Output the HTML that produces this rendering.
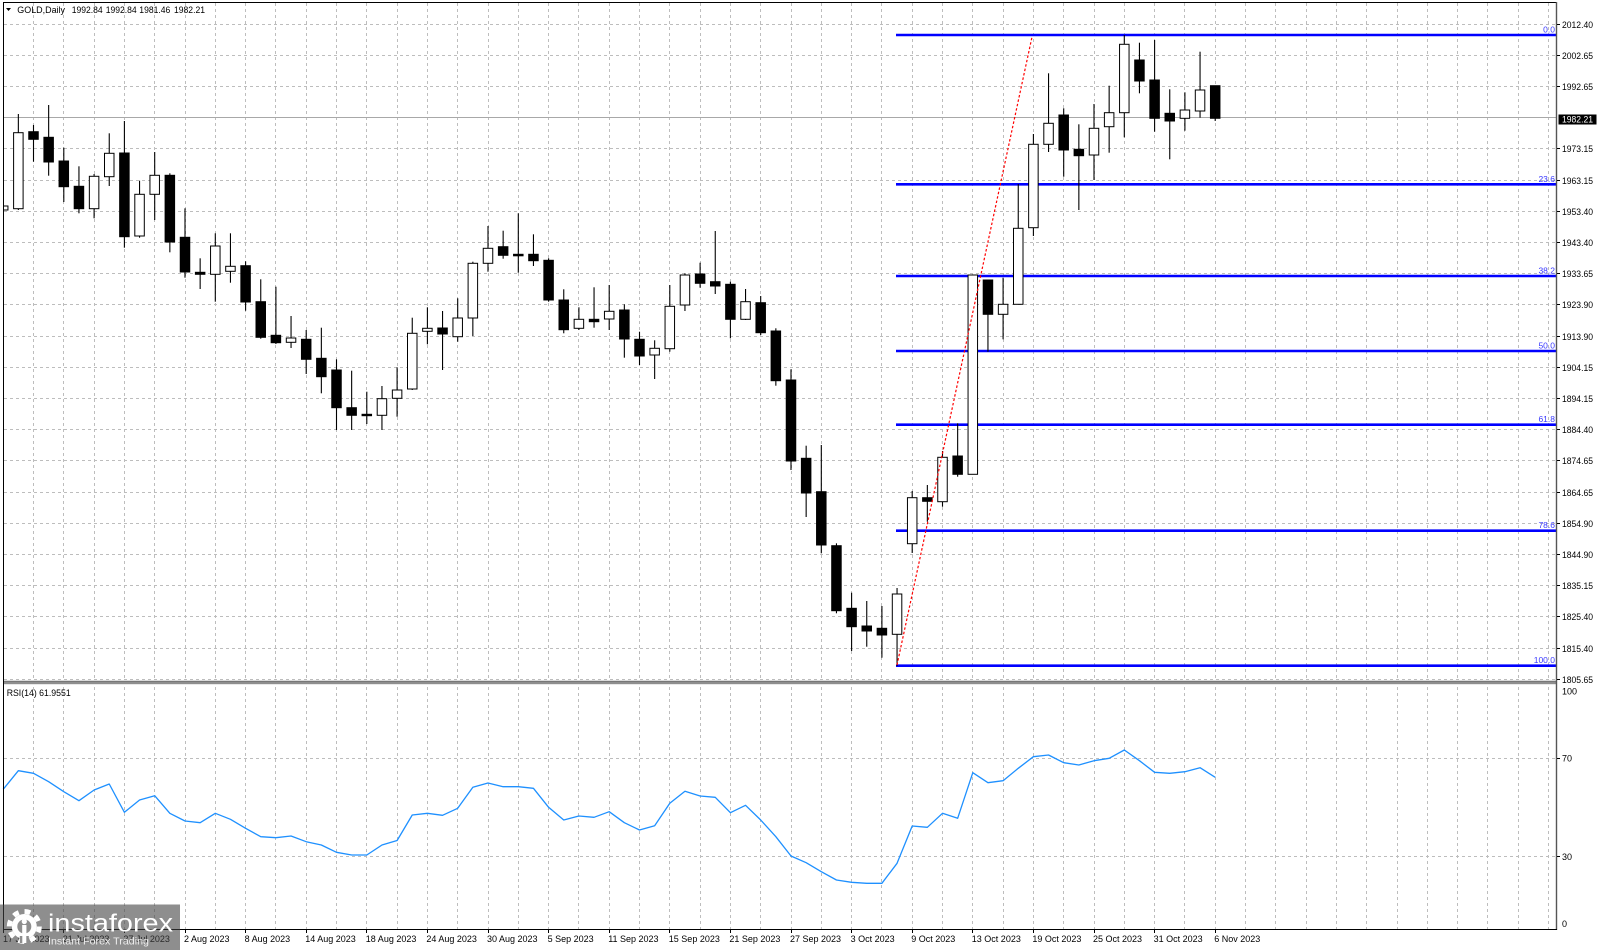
<!DOCTYPE html>
<html><head><meta charset="utf-8"><title>GOLD Daily</title>
<style>
html,body{margin:0;padding:0;background:#fff;}
svg{display:block;}
text{font-family:"Liberation Sans",Arial,sans-serif;}
</style></head>
<body>
<svg width="1600" height="950" viewBox="0 0 1600 950" xmlns="http://www.w3.org/2000/svg">
<defs>
<clipPath id="mainclip"><rect x="3" y="2" width="1553.5" height="679"/></clipPath>
<clipPath id="axclip"><rect x="1556" y="0" width="44" height="683"/></clipPath>
</defs>
<rect x="0" y="0" width="1600" height="950" fill="#fff"/>

<!-- vertical grid -->
<path fill="none" stroke="#bdbdbd" stroke-width="1" stroke-dasharray="3 3" d="M33.5 3V929M63.5 3V929M94.5 3V929M124.5 3V929M154.5 3V929M185.5 3V929M215.5 3V929M245.5 3V929M275.5 3V929M306.5 3V929M336.5 3V929M366.5 3V929M397.5 3V929M427.5 3V929M457.5 3V929M488.5 3V929M518.5 3V929M548.5 3V929M578.5 3V929M609.5 3V929M639.5 3V929M669.5 3V929M700.5 3V929M730.5 3V929M760.5 3V929M791.5 3V929M821.5 3V929M851.5 3V929M881.5 3V929M912.5 3V929M942.5 3V929M972.5 3V929M1003.5 3V929M1033.5 3V929M1063.5 3V929M1094.5 3V929M1124.5 3V929M1154.5 3V929M1184.5 3V929M1215.5 3V929M1245.5 3V929M1275.5 3V929M1306.5 3V929M1336.5 3V929M1366.5 3V929M1397.5 3V929M1427.5 3V929M1457.5 3V929M1487.5 3V929M1518.5 3V929M1548.5 3V929"/>
<!-- horizontal grid -->
<path fill="none" stroke="#bdbdbd" stroke-width="1" stroke-dasharray="3 3" d="M4 24.5H1556M4 55.5H1556M4 86.5H1556M4 148.5H1556M4 180.5H1556M4 211.5H1556M4 242.5H1556M4 273.5H1556M4 304.5H1556M4 336.5H1556M4 367.5H1556M4 398.5H1556M4 429.5H1556M4 460.5H1556M4 492.5H1556M4 523.5H1556M4 554.5H1556M4 585.5H1556M4 616.5H1556M4 648.5H1556M4 679.5H1556M4 758.5H1556M4 856.5H1556"/>
<!-- current price line -->
<line x1="3" y1="117.5" x2="1556" y2="117.5" stroke="#a8a8a8" stroke-width="1"/>

<!-- fibonacci levels -->
<g stroke="#0000ff" stroke-width="2.6">
<line x1="896" y1="35" x2="1556" y2="35"/>
<line x1="896" y1="184.3" x2="1556" y2="184.3"/>
<line x1="896" y1="276" x2="1556" y2="276"/>
<line x1="896" y1="351" x2="1556" y2="351"/>
<line x1="896" y1="424.7" x2="1556" y2="424.7"/>
<line x1="896" y1="530.7" x2="1556" y2="530.7"/>
<line x1="896" y1="665.7" x2="1556" y2="665.7"/>
</g>
<g fill="#3a3aff" font-size="8.5" text-anchor="end">
<text x="1555" y="32.5">0.0</text>
<text x="1555" y="181.8">23.6</text>
<text x="1555" y="273.5">38.2</text>
<text x="1555" y="348.5">50.0</text>
<text x="1555" y="422.2">61.8</text>
<text x="1555" y="528.2">78.6</text>
<text x="1555" y="663.2">100.0</text>
</g>

<!-- candles -->
<g clip-path="url(#mainclip)" stroke="#000" stroke-width="1">
<g stroke-width="1.1">
<line x1="3.2" y1="192" x2="3.2" y2="237"/>
<line x1="18.35" y1="114" x2="18.35" y2="210"/>
<line x1="33.5" y1="125" x2="33.5" y2="161.7"/>
<line x1="48.65" y1="105" x2="48.65" y2="175.7"/>
<line x1="63.8" y1="147.7" x2="63.8" y2="202"/>
<line x1="78.95" y1="166.3" x2="78.95" y2="213.3"/>
<line x1="94.1" y1="174" x2="94.1" y2="218.3"/>
<line x1="109.25" y1="133.3" x2="109.25" y2="186"/>
<line x1="124.4" y1="121" x2="124.4" y2="247.7"/>
<line x1="139.55" y1="180.7" x2="139.55" y2="237.7"/>
<line x1="154.7" y1="152" x2="154.7" y2="220"/>
<line x1="169.85" y1="173.3" x2="169.85" y2="252.3"/>
<line x1="185" y1="208.3" x2="185" y2="277.7"/>
<line x1="200.15" y1="258.3" x2="200.15" y2="289"/>
<line x1="215.3" y1="233.3" x2="215.3" y2="301.7"/>
<line x1="230.45" y1="233.3" x2="230.45" y2="282.7"/>
<line x1="245.6" y1="261.3" x2="245.6" y2="310.7"/>
<line x1="260.75" y1="279.3" x2="260.75" y2="338.7"/>
<line x1="275.9" y1="286.7" x2="275.9" y2="344"/>
<line x1="291.05" y1="316" x2="291.05" y2="348"/>
<line x1="306.2" y1="330" x2="306.2" y2="374"/>
<line x1="321.35" y1="327.7" x2="321.35" y2="393.3"/>
<line x1="336.5" y1="359.3" x2="336.5" y2="430"/>
<line x1="351.65" y1="370.7" x2="351.65" y2="430"/>
<line x1="366.8" y1="391.7" x2="366.8" y2="424"/>
<line x1="381.95" y1="386" x2="381.95" y2="430"/>
<line x1="397.1" y1="367.3" x2="397.1" y2="416.7"/>
<line x1="412.25" y1="317.7" x2="412.25" y2="390"/>
<line x1="427.4" y1="307.3" x2="427.4" y2="344.3"/>
<line x1="442.55" y1="311" x2="442.55" y2="370"/>
<line x1="457.7" y1="298.3" x2="457.7" y2="341.7"/>
<line x1="472.85" y1="261.7" x2="472.85" y2="336"/>
<line x1="488" y1="226" x2="488" y2="271.7"/>
<line x1="503.15" y1="230.7" x2="503.15" y2="258.7"/>
<line x1="518.3" y1="213.3" x2="518.3" y2="272.7"/>
<line x1="533.45" y1="234.3" x2="533.45" y2="266"/>
<line x1="548.6" y1="258.3" x2="548.6" y2="301.7"/>
<line x1="563.75" y1="289.3" x2="563.75" y2="333.3"/>
<line x1="578.9" y1="307.3" x2="578.9" y2="330"/>
<line x1="594.05" y1="287.3" x2="594.05" y2="327.7"/>
<line x1="609.2" y1="285" x2="609.2" y2="330"/>
<line x1="624.35" y1="304.3" x2="624.35" y2="357.7"/>
<line x1="639.5" y1="331.7" x2="639.5" y2="365"/>
<line x1="654.65" y1="340.3" x2="654.65" y2="379"/>
<line x1="669.8" y1="285" x2="669.8" y2="351.7"/>
<line x1="684.95" y1="273.3" x2="684.95" y2="311"/>
<line x1="700.1" y1="262.7" x2="700.1" y2="287.7"/>
<line x1="715.25" y1="231" x2="715.25" y2="294"/>
<line x1="730.4" y1="281.7" x2="730.4" y2="338.3"/>
<line x1="745.55" y1="289" x2="745.55" y2="320"/>
<line x1="760.7" y1="296" x2="760.7" y2="335"/>
<line x1="775.85" y1="328.3" x2="775.85" y2="385.7"/>
<line x1="791" y1="369.3" x2="791" y2="470"/>
<line x1="806.15" y1="445.7" x2="806.15" y2="517"/>
<line x1="821.3" y1="445" x2="821.3" y2="553.3"/>
<line x1="836.45" y1="543.3" x2="836.45" y2="613.3"/>
<line x1="851.6" y1="592.7" x2="851.6" y2="651"/>
<line x1="866.75" y1="601" x2="866.75" y2="646.7"/>
<line x1="881.9" y1="606" x2="881.9" y2="657.7"/>
<line x1="897.05" y1="588" x2="897.05" y2="666"/>
<line x1="912.2" y1="491" x2="912.2" y2="553"/>
<line x1="927.35" y1="485" x2="927.35" y2="521.7"/>
<line x1="942.5" y1="451" x2="942.5" y2="506.7"/>
<line x1="957.65" y1="423.3" x2="957.65" y2="476.7"/>
<line x1="972.8" y1="275" x2="972.8" y2="474.3"/>
<line x1="987.95" y1="280" x2="987.95" y2="351.7"/>
<line x1="1003.1" y1="277.7" x2="1003.1" y2="339.3"/>
<line x1="1018.25" y1="184" x2="1018.25" y2="304.3"/>
<line x1="1033.4" y1="134" x2="1033.4" y2="236"/>
<line x1="1048.55" y1="73.3" x2="1048.55" y2="152"/>
<line x1="1063.7" y1="108.3" x2="1063.7" y2="176.7"/>
<line x1="1078.85" y1="124.3" x2="1078.85" y2="210"/>
<line x1="1094" y1="104" x2="1094" y2="180"/>
<line x1="1109.15" y1="85.7" x2="1109.15" y2="152.7"/>
<line x1="1124.3" y1="35" x2="1124.3" y2="137.3"/>
<line x1="1139.45" y1="42.7" x2="1139.45" y2="93.3"/>
<line x1="1154.6" y1="40" x2="1154.6" y2="131.7"/>
<line x1="1169.75" y1="89.3" x2="1169.75" y2="159.3"/>
<line x1="1184.9" y1="92.3" x2="1184.9" y2="130.7"/>
<line x1="1200.05" y1="51.7" x2="1200.05" y2="117.7"/>
<line x1="1215.2" y1="85.7" x2="1215.2" y2="121"/>
</g>
<!-- white bodies -->
<g fill="#fff">
<rect x="-1.55" y="206" width="9.5" height="4"/>
<rect x="13.6" y="132.7" width="9.5" height="76"/>
<rect x="89.35" y="176.3" width="9.5" height="32.4"/>
<rect x="104.5" y="153.3" width="9.5" height="23.4"/>
<rect x="134.8" y="194.3" width="9.5" height="41.7"/>
<rect x="149.95" y="175.3" width="9.5" height="19"/>
<rect x="210.55" y="246" width="9.5" height="28.3"/>
<rect x="225.7" y="266.3" width="9.5" height="5"/>
<rect x="286.3" y="338" width="9.5" height="4.3"/>
<rect x="377.2" y="398.7" width="9.5" height="16.6"/>
<rect x="392.35" y="390" width="9.5" height="8.3"/>
<rect x="407.5" y="333.3" width="9.5" height="55.7"/>
<rect x="422.65" y="328.3" width="9.5" height="3"/>
<rect x="452.95" y="318" width="9.5" height="18.7"/>
<rect x="468.1" y="263.3" width="9.5" height="54.7"/>
<rect x="483.25" y="248.3" width="9.5" height="15"/>
<rect x="574.15" y="319.3" width="9.5" height="9"/>
<rect x="604.45" y="311.3" width="9.5" height="7.7"/>
<rect x="649.9" y="348.3" width="9.5" height="6.7"/>
<rect x="665.05" y="306.3" width="9.5" height="42.4"/>
<rect x="680.2" y="275" width="9.5" height="30"/>
<rect x="740.8" y="301.7" width="9.5" height="17.6"/>
<rect x="892.3" y="594" width="9.5" height="40.3"/>
<rect x="907.45" y="497.7" width="9.5" height="46"/>
<rect x="937.75" y="457.3" width="9.5" height="44.4"/>
<rect x="968.05" y="275" width="9.5" height="199.3"/>
<rect x="998.35" y="304.3" width="9.5" height="10"/>
<rect x="1013.5" y="228.3" width="9.5" height="76"/>
<rect x="1028.65" y="144.3" width="9.5" height="83.4"/>
<rect x="1043.8" y="123.3" width="9.5" height="21"/>
<rect x="1089.25" y="128.3" width="9.5" height="26.7"/>
<rect x="1104.4" y="112.7" width="9.5" height="14"/>
<rect x="1119.55" y="44.3" width="9.5" height="68.4"/>
<rect x="1180.15" y="110" width="9.5" height="8.3"/>
<rect x="1195.3" y="90" width="9.5" height="21"/>
</g>
<!-- black bodies -->
<g fill="#000">
<rect x="28.75" y="131.7" width="9.5" height="7.6"/>
<rect x="43.9" y="137.3" width="9.5" height="24.7"/>
<rect x="59.05" y="161" width="9.5" height="25.7"/>
<rect x="74.2" y="186.3" width="9.5" height="22.4"/>
<rect x="119.65" y="153" width="9.5" height="83.7"/>
<rect x="165.1" y="175.3" width="9.5" height="66.7"/>
<rect x="180.25" y="237.3" width="9.5" height="34.7"/>
<rect x="195.4" y="272.3" width="9.5" height="2"/>
<rect x="240.85" y="265.7" width="9.5" height="36.3"/>
<rect x="256" y="301.7" width="9.5" height="35.6"/>
<rect x="271.15" y="335.3" width="9.5" height="7.4"/>
<rect x="301.45" y="339.3" width="9.5" height="20"/>
<rect x="316.6" y="358.3" width="9.5" height="18.4"/>
<rect x="331.75" y="370" width="9.5" height="37.7"/>
<rect x="346.9" y="407.7" width="9.5" height="7.6"/>
<rect x="362.05" y="414.3" width="9.5" height="1.4"/>
<rect x="437.8" y="328" width="9.5" height="6"/>
<rect x="498.4" y="246.7" width="9.5" height="8.6"/>
<rect x="513.55" y="254.3" width="9.5" height="1.5"/>
<rect x="528.7" y="254.3" width="9.5" height="6.4"/>
<rect x="543.85" y="260.3" width="9.5" height="39.7"/>
<rect x="559" y="300" width="9.5" height="29.7"/>
<rect x="589.3" y="319.3" width="9.5" height="2.4"/>
<rect x="619.6" y="310" width="9.5" height="29"/>
<rect x="634.75" y="339.3" width="9.5" height="16.7"/>
<rect x="695.35" y="274" width="9.5" height="9.3"/>
<rect x="710.5" y="281.7" width="9.5" height="4.3"/>
<rect x="725.65" y="284.3" width="9.5" height="35"/>
<rect x="755.95" y="302.7" width="9.5" height="30"/>
<rect x="771.1" y="331" width="9.5" height="49.7"/>
<rect x="786.25" y="380" width="9.5" height="81"/>
<rect x="801.4" y="458.3" width="9.5" height="34.7"/>
<rect x="816.55" y="491.7" width="9.5" height="53.3"/>
<rect x="831.7" y="545.7" width="9.5" height="65"/>
<rect x="846.85" y="608.3" width="9.5" height="18.4"/>
<rect x="862" y="626" width="9.5" height="5"/>
<rect x="877.15" y="628.3" width="9.5" height="6.7"/>
<rect x="922.6" y="497.7" width="9.5" height="3.6"/>
<rect x="952.9" y="456" width="9.5" height="18.3"/>
<rect x="983.2" y="280" width="9.5" height="34.3"/>
<rect x="1058.95" y="115" width="9.5" height="35"/>
<rect x="1074.1" y="149.3" width="9.5" height="6.4"/>
<rect x="1134.7" y="60" width="9.5" height="21"/>
<rect x="1149.85" y="80" width="9.5" height="38.3"/>
<rect x="1165" y="113.3" width="9.5" height="7.7"/>
<rect x="1210.45" y="85.7" width="9.5" height="32.6"/>
</g>
</g>

<!-- red dotted fib trendline -->
<line x1="897" y1="665" x2="1032" y2="37" stroke="#ff0000" stroke-width="1.2" stroke-dasharray="2.5 2"/>

<!-- RSI line -->
<polyline fill="none" stroke="#1e90ff" stroke-width="1.3" stroke-linejoin="round" points="3.2,789.3 18.35,770.7 33.5,773.3 48.65,781.7 63.8,791.7 78.95,800.7 94.1,790 109.25,784 124.4,812.3 139.55,800 154.7,795.7 169.85,813.3 185,821 200.15,822.7 215.3,813.3 230.45,819.3 245.6,828.3 260.75,836.7 275.9,837.7 291.05,836 306.2,841.7 321.35,845 336.5,852.3 351.65,855 366.8,855 381.95,845 397.1,840.5 412.25,815 427.4,813.3 442.55,815.3 457.7,808.3 472.85,787.3 488,783 503.15,786.7 518.3,786.7 533.45,788.3 548.6,807.3 563.75,820 578.9,816 594.05,817.3 609.2,811.7 624.35,822.7 639.5,830 654.65,825.7 669.8,803.3 684.95,791.3 700.1,796 715.25,797.3 730.4,812.7 745.55,805.3 760.7,820 775.85,836.7 791,856 806.15,862.7 821.3,871.7 836.45,880 851.6,882.3 866.75,883.3 881.9,883.3 897.05,863.3 912.2,826 927.35,827.3 942.5,813.3 957.65,818.3 972.8,772.7 987.95,782.7 1003.1,780.7 1018.25,768.3 1033.4,756.7 1048.55,755 1063.7,762.7 1078.85,765 1094,760.7 1109.15,758.3 1124.3,750 1139.45,760.7 1154.6,772.3 1169.75,773.3 1184.9,771.7 1200.05,767.7 1215.2,777.3"/>

<!-- borders -->
<rect x="3" y="681" width="1554" height="3.2" fill="#8e8e8e"/>
<line x1="3" y1="681.2" x2="1557" y2="681.2" stroke="#6a6a6a" stroke-width="0.8"/>
<line x1="3" y1="2.5" x2="1557" y2="2.5" stroke="#000" stroke-width="1"/>
<line x1="3.5" y1="2" x2="3.5" y2="930" stroke="#000" stroke-width="1"/>
<line x1="1556.5" y1="2" x2="1556.5" y2="930" stroke="#555" stroke-width="1.4"/>
<line x1="3" y1="929.5" x2="1557" y2="929.5" stroke="#000" stroke-width="1"/>

<!-- price axis ticks & labels -->
<path stroke="#000" stroke-width="1" d="M1557 24.5H1560M1557 55.5H1560M1557 86.5H1560M1557 148.5H1560M1557 180.5H1560M1557 211.5H1560M1557 242.5H1560M1557 273.5H1560M1557 304.5H1560M1557 336.5H1560M1557 367.5H1560M1557 398.5H1560M1557 429.5H1560M1557 460.5H1560M1557 492.5H1560M1557 523.5H1560M1557 554.5H1560M1557 585.5H1560M1557 616.5H1560M1557 648.5H1560M1557 679.5H1560M1557 758.5H1560M1557 856.5H1560"/>
<g font-size="9" fill="#000" clip-path="url(#axclip)">
<text x="1562" y="28" textLength="31" lengthAdjust="spacingAndGlyphs">2012.40</text>
<text x="1562" y="59" textLength="31" lengthAdjust="spacingAndGlyphs">2002.65</text>
<text x="1562" y="90" textLength="31" lengthAdjust="spacingAndGlyphs">1992.65</text>
<text x="1562" y="152" textLength="31" lengthAdjust="spacingAndGlyphs">1973.15</text>
<text x="1562" y="184" textLength="31" lengthAdjust="spacingAndGlyphs">1963.15</text>
<text x="1562" y="215" textLength="31" lengthAdjust="spacingAndGlyphs">1953.40</text>
<text x="1562" y="246" textLength="31" lengthAdjust="spacingAndGlyphs">1943.40</text>
<text x="1562" y="277" textLength="31" lengthAdjust="spacingAndGlyphs">1933.65</text>
<text x="1562" y="308" textLength="31" lengthAdjust="spacingAndGlyphs">1923.90</text>
<text x="1562" y="340" textLength="31" lengthAdjust="spacingAndGlyphs">1913.90</text>
<text x="1562" y="371" textLength="31" lengthAdjust="spacingAndGlyphs">1904.15</text>
<text x="1562" y="402" textLength="31" lengthAdjust="spacingAndGlyphs">1894.15</text>
<text x="1562" y="433" textLength="31" lengthAdjust="spacingAndGlyphs">1884.40</text>
<text x="1562" y="464" textLength="31" lengthAdjust="spacingAndGlyphs">1874.65</text>
<text x="1562" y="496" textLength="31" lengthAdjust="spacingAndGlyphs">1864.65</text>
<text x="1562" y="527" textLength="31" lengthAdjust="spacingAndGlyphs">1854.90</text>
<text x="1562" y="558" textLength="31" lengthAdjust="spacingAndGlyphs">1844.90</text>
<text x="1562" y="589" textLength="31" lengthAdjust="spacingAndGlyphs">1835.15</text>
<text x="1562" y="620" textLength="31" lengthAdjust="spacingAndGlyphs">1825.40</text>
<text x="1562" y="652" textLength="31" lengthAdjust="spacingAndGlyphs">1815.40</text>
<text x="1562" y="683" textLength="31" lengthAdjust="spacingAndGlyphs">1805.65</text>
</g>
<rect x="1558.5" y="114.5" width="38" height="10" fill="#000"/>
<text x="1562" y="122.5" font-size="9" fill="#fff" textLength="31" lengthAdjust="spacingAndGlyphs">1982.21</text>

<!-- RSI axis labels -->
<g font-size="9" fill="#000">
<text x="1562" y="694.5">100</text>
<text x="1562" y="761.5">70</text>
<text x="1562" y="860">30</text>
<text x="1562" y="927">0</text>
</g>

<!-- header -->
<path d="M6 8L11 8L8.5 11Z" fill="#000"/>
<g font-size="9" fill="#000">
<text x="17.3" y="13" textLength="47.7" lengthAdjust="spacingAndGlyphs">GOLD,Daily</text>
<text x="71.7" y="13" textLength="31" lengthAdjust="spacingAndGlyphs">1992.84</text>
<text x="105.7" y="13" textLength="31" lengthAdjust="spacingAndGlyphs">1992.84</text>
<text x="139.3" y="13" textLength="31" lengthAdjust="spacingAndGlyphs">1981.46</text>
<text x="174" y="13" textLength="31" lengthAdjust="spacingAndGlyphs">1982.21</text>
<text x="6.7" y="696" textLength="64" lengthAdjust="spacingAndGlyphs">RSI(14) 61.9551</text>
</g>

<!-- date ticks & labels -->
<path stroke="#000" stroke-width="1" d="M3.5 930V933M63.5 930V933M124.5 930V933M185.5 930V933M245.5 930V933M306.5 930V933M366.5 930V933M427.5 930V933M488.5 930V933M548.5 930V933M609.5 930V933M669.5 930V933M730.5 930V933M791.5 930V933M851.5 930V933M912.5 930V933M972.5 930V933M1033.5 930V933M1094.5 930V933M1154.5 930V933M1215.5 930V933"/>
<g font-size="9" fill="#000">
<text x="3" y="942">17 Jul 2023</text>
<text x="62.8" y="942">21 Jul 2023</text>
<text x="123.4" y="942">27 Jul 2023</text>
<text x="184" y="942">2 Aug 2023</text>
<text x="244.6" y="942">8 Aug 2023</text>
<text x="305.2" y="942">14 Aug 2023</text>
<text x="365.8" y="942">18 Aug 2023</text>
<text x="426.4" y="942">24 Aug 2023</text>
<text x="487" y="942">30 Aug 2023</text>
<text x="547.6" y="942">5 Sep 2023</text>
<text x="608.2" y="942">11 Sep 2023</text>
<text x="668.8" y="942">15 Sep 2023</text>
<text x="729.4" y="942">21 Sep 2023</text>
<text x="790" y="942">27 Sep 2023</text>
<text x="850.6" y="942">3 Oct 2023</text>
<text x="911.2" y="942">9 Oct 2023</text>
<text x="971.8" y="942">13 Oct 2023</text>
<text x="1032.4" y="942">19 Oct 2023</text>
<text x="1093" y="942">25 Oct 2023</text>
<text x="1153.6" y="942">31 Oct 2023</text>
<text x="1214.2" y="942">6 Nov 2023</text>
</g>

<!-- instaforex logo -->
<rect x="0" y="904.5" width="180" height="45.5" fill="rgb(66,66,66)" fill-opacity="0.6"/>
<g>
<circle cx="24.3" cy="926.5" r="15" fill="none" stroke="#fff" stroke-width="5" stroke-dasharray="5.9 5.9"/>
<circle cx="24.3" cy="926.5" r="12.5" fill="#fff"/>
<circle cx="24.3" cy="926.5" r="7" fill="#8e8e8e"/>
<circle cx="24.3" cy="921.5" r="2.6" fill="#fff"/>
<rect x="22.3" y="925" width="4" height="16" fill="#fff"/>
<rect x="19.8" y="936" width="9" height="7" fill="#8e8e8e"/>
<rect x="22.3" y="925" width="4" height="18" fill="#fff"/>
</g>
<text x="48" y="931.5" font-size="25" fill="#fff" textLength="125" lengthAdjust="spacingAndGlyphs">instaforex</text>
<text x="48" y="944.5" font-size="10.5" fill="#eeeeee" textLength="101" lengthAdjust="spacingAndGlyphs">Instant Forex Trading</text>
</svg>
</body></html>
